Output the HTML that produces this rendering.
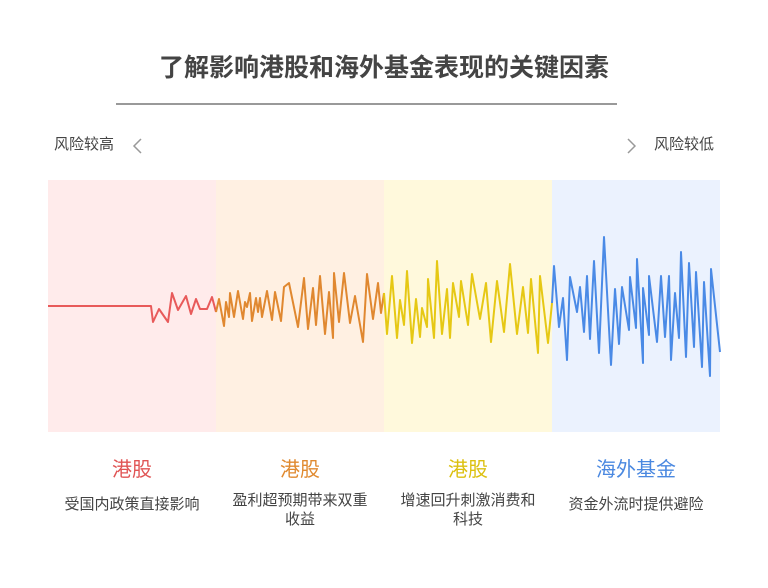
<!DOCTYPE html>
<html><head><meta charset="utf-8"><style>
body{margin:0;background:#fff;width:768px;height:588px;overflow:hidden;font-family:"Liberation Sans","Noto Sans CJK SC",sans-serif;}
</style></head><body>
<svg width="768" height="588" xmlns="http://www.w3.org/2000/svg" style="position:absolute;left:0;top:0" font-family="Liberation Sans, Noto Sans CJK SC, sans-serif">
<text x="384" y="76" text-anchor="middle" font-size="25" font-weight="bold" fill="#444">了解影响港股和海外基金表现的关键因素</text>
<line x1="116" y1="104" x2="617" y2="104" stroke="#999" stroke-width="2"/>
<text x="54" y="149" font-size="15" fill="#444">风险较高</text>
<polyline points="141,139 134,146 141,153" fill="none" stroke="#999" stroke-width="1.5"/>
<polyline points="628,139 635,146 628,153" fill="none" stroke="#999" stroke-width="1.5"/>
<text x="654" y="149" font-size="15" fill="#444">风险较低</text>
<rect x="48" y="180" width="168" height="252" fill="#ffebeb"/>
<rect x="216" y="180" width="168" height="252" fill="#fff0e2"/>
<rect x="384" y="180" width="168" height="252" fill="#fff9dc"/>
<rect x="552" y="180" width="168" height="252" fill="#ebf2fe"/>
<g fill="none" stroke-width="2" stroke-linejoin="round">
<polyline stroke="#e85a5a" points="48,306 151,306 153,322 159,309 168,322 172,293 178,310 186,296 191,314 196,299 200,309 207,309 212,297 216,312"/>
<polyline stroke="#e08830" points="216,312 219,299 224,326 226,302 229,317 230,293 234,317 238,291 243,319 245,302 247,307 250,293 252,321 256,298 258,312 260,298 262,317 267,291 272,320 275,292 281,321 284,287 289,283 298,327 304,278 308,329 313,288 316,325 320,276 325,334 329,292 333,338 334,273 339,322 344,273 350,323 355,296 363,342 367,274 373,319 378,283 381,313 384,293"/>
<polyline stroke="#e6c814" points="384,293 387,334 392,276 397,338 400,300 404,325 407,271 412,343 416,299 420,337 422,308 427,327 428,279 434,338 437,261 442,334 447,289 450,338 453,283 459,317 461,281 468,325 472,274 480,319 486,283 491,342 497,281 504,332 510,264 517,334 523,287 528,333 531,279 538,353 540,276 548,343 552,303"/>
<polyline stroke="#4a8ae6" points="552,303 554,266 559,327 563,298 567,360 570,277 577,312 580,287 584,332 587,276 590,339 594,261 599,353 604,237 611,365 615,289 619,344 622,287 629,330 630,277 636,328 637,259 643,363 643,288 649,335 649,276 657,342 661,276 665,337 669,276 671,360 675,293 679,338 681,252 686,357 689,263 694,347 696,272 702,367 704,282 710,376 711,269 720,352"/>
</g>
<g font-size="20" text-anchor="middle">
<text x="132" y="476" fill="#e05555">港股</text>
<text x="300" y="476" fill="#e08a30">港股</text>
<text x="468" y="476" fill="#dcc010">港股</text>
<text x="636" y="476" fill="#4a88e0">海外基金</text>
</g>
<g font-size="15" text-anchor="middle" fill="#444">
<text x="132" y="509">受国内政策直接影响</text>
<text x="300" y="505">盈利超预期带来双重</text>
<text x="300" y="524">收益</text>
<text x="468" y="505">增速回升刺激消费和</text>
<text x="468" y="524">科技</text>
<text x="636" y="509">资金外流时提供避险</text>
</g>
</svg>
</body></html>
